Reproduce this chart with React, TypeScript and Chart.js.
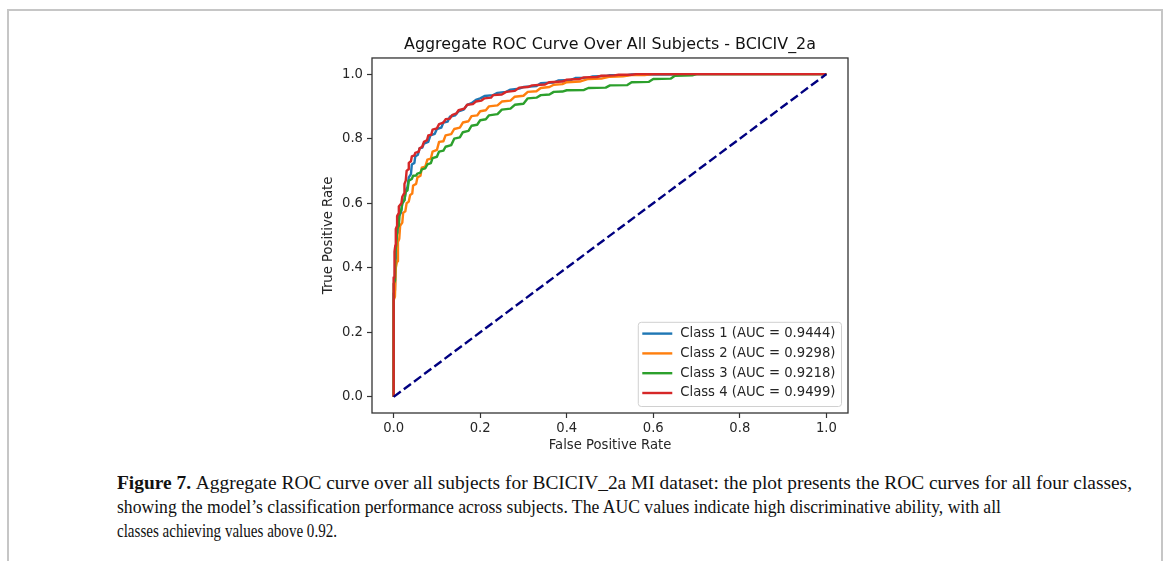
import React, { useEffect, useLayoutEffect, useRef } from "react";
import { Chart, registerables } from "chart.js";

Chart.register(...registerables);

// Axis ticks shared by both axes
const tickValues = [0, 0.2, 0.4, 0.6, 0.8, 1.0];

const chartTitle = "Aggregate ROC Curve Over All Subjects - BCICIV_2a";
const xAxisTitle = "False Positive Rate";
const yAxisTitle = "True Positive Rate";

const classLabels = [
  "Class 1 (AUC = 0.9444)",
  "Class 2 (AUC = 0.9298)",
  "Class 3 (AUC = 0.9218)",
  "Class 4 (AUC = 0.9499)",
];
const classColors = ["#1f77b4", "#ff7f0e", "#2ca02c", "#d62728"];

// ROC operating points per class as [false positive rate, true positive rate]
const class1Roc: [number, number][] = [
  [0, 0], [0, 0.32], [0.003, 0.33], [0.004, 0.42], [0.006, 0.44], [0.007, 0.5], [0.01, 0.51],
  [0.012, 0.56], [0.017, 0.57], [0.02, 0.6], [0.025, 0.61], [0.028, 0.64], [0.032, 0.65],
  [0.035, 0.68], [0.04, 0.69], [0.042, 0.72], [0.048, 0.725], [0.05, 0.745], [0.056, 0.75],
  [0.06, 0.77], [0.066, 0.772], [0.07, 0.785], [0.08, 0.79], [0.085, 0.81], [0.095, 0.815],
  [0.1, 0.83], [0.11, 0.834], [0.115, 0.85], [0.125, 0.853], [0.13, 0.868], [0.142, 0.872],
  [0.15, 0.885], [0.162, 0.89], [0.17, 0.905], [0.18, 0.91], [0.19, 0.92], [0.2, 0.925],
  [0.21, 0.932], [0.23, 0.935], [0.24, 0.942], [0.26, 0.945], [0.27, 0.952], [0.29, 0.955],
  [0.3, 0.96], [0.33, 0.963], [0.34, 0.972], [0.37, 0.974], [0.38, 0.98], [0.41, 0.982],
  [0.42, 0.988], [0.45, 0.989], [0.46, 0.993], [0.49, 0.994], [0.5, 0.997], [0.54, 0.997],
  [0.55, 0.999], [0.65, 0.999], [0.66, 1.0], [1, 1],
];

const class2Roc: [number, number][] = [
  [0, 0], [0, 0.3], [0.003, 0.31], [0.005, 0.4], [0.008, 0.42], [0.01, 0.48], [0.013, 0.49],
  [0.015, 0.53], [0.02, 0.54], [0.022, 0.57], [0.027, 0.575], [0.03, 0.6], [0.035, 0.605],
  [0.038, 0.625], [0.043, 0.63], [0.045, 0.655], [0.052, 0.66], [0.055, 0.68], [0.062, 0.685],
  [0.065, 0.71], [0.073, 0.713], [0.078, 0.735], [0.086, 0.738], [0.09, 0.76], [0.1, 0.765],
  [0.105, 0.79], [0.115, 0.792], [0.12, 0.81], [0.133, 0.814], [0.14, 0.83], [0.153, 0.834],
  [0.16, 0.85], [0.173, 0.854], [0.18, 0.87], [0.193, 0.872], [0.2, 0.885], [0.213, 0.888],
  [0.22, 0.9], [0.24, 0.903], [0.25, 0.915], [0.27, 0.918], [0.28, 0.93], [0.3, 0.933],
  [0.31, 0.945], [0.33, 0.947], [0.34, 0.957], [0.36, 0.96], [0.37, 0.967], [0.39, 0.969],
  [0.4, 0.975], [0.43, 0.977], [0.45, 0.985], [0.48, 0.986], [0.5, 0.992], [0.53, 0.993],
  [0.55, 0.997], [0.58, 0.997], [0.6, 1.0], [1, 1],
];

const class3Roc: [number, number][] = [
  [0, 0], [0, 0.35], [0.003, 0.36], [0.004, 0.45], [0.006, 0.47], [0.008, 0.52], [0.012, 0.53],
  [0.014, 0.57], [0.018, 0.58], [0.02, 0.6], [0.025, 0.61], [0.028, 0.635], [0.032, 0.64],
  [0.035, 0.67], [0.042, 0.675], [0.045, 0.685], [0.052, 0.686], [0.055, 0.692], [0.062, 0.695],
  [0.065, 0.705], [0.073, 0.708], [0.078, 0.72], [0.086, 0.724], [0.09, 0.74], [0.1, 0.744],
  [0.105, 0.76], [0.115, 0.763], [0.12, 0.775], [0.133, 0.78], [0.14, 0.8], [0.153, 0.804],
  [0.16, 0.82], [0.173, 0.824], [0.18, 0.84], [0.193, 0.843], [0.2, 0.857], [0.213, 0.86],
  [0.22, 0.872], [0.24, 0.876], [0.25, 0.89], [0.27, 0.893], [0.28, 0.905], [0.3, 0.908],
  [0.31, 0.925], [0.33, 0.927], [0.34, 0.935], [0.36, 0.937], [0.37, 0.945], [0.39, 0.946],
  [0.4, 0.95], [0.44, 0.951], [0.45, 0.957], [0.49, 0.958], [0.5, 0.965], [0.54, 0.966],
  [0.55, 0.975], [0.59, 0.976], [0.6, 0.985], [0.64, 0.986], [0.65, 0.995], [0.69, 0.996],
  [0.7, 1.0], [1, 1],
];

const class4Roc: [number, number][] = [
  [0, 0], [0, 0.37], [0.002, 0.37], [0.002, 0.45], [0.004, 0.47], [0.005, 0.52], [0.008, 0.53],
  [0.008, 0.56], [0.012, 0.57], [0.012, 0.59], [0.018, 0.6], [0.02, 0.62], [0.024, 0.63],
  [0.025, 0.66], [0.028, 0.67], [0.03, 0.7], [0.034, 0.705], [0.035, 0.725], [0.04, 0.73],
  [0.042, 0.745], [0.048, 0.748], [0.05, 0.756], [0.058, 0.76], [0.06, 0.77], [0.066, 0.775],
  [0.07, 0.79], [0.077, 0.795], [0.08, 0.81], [0.087, 0.812], [0.09, 0.828], [0.1, 0.832],
  [0.105, 0.845], [0.115, 0.85], [0.12, 0.86], [0.13, 0.862], [0.135, 0.873], [0.145, 0.878],
  [0.15, 0.888], [0.163, 0.893], [0.17, 0.905], [0.183, 0.907], [0.19, 0.915], [0.203, 0.918],
  [0.21, 0.925], [0.225, 0.927], [0.23, 0.935], [0.25, 0.937], [0.26, 0.945], [0.28, 0.948],
  [0.29, 0.958], [0.31, 0.96], [0.32, 0.965], [0.35, 0.968], [0.36, 0.975], [0.39, 0.977],
  [0.4, 0.983], [0.43, 0.985], [0.44, 0.99], [0.47, 0.991], [0.48, 0.995], [0.51, 0.996],
  [0.52, 0.998], [0.55, 0.998], [0.56, 1.0], [1, 1],
];

// Chance-level diagonal
const chanceRoc: [number, number][] = [[0, 0], [1, 1]];

const captionLead = "Figure 7.";
const captionLines = [
  "Aggregate ROC curve over all subjects for BCICIV_2a MI dataset: the plot presents the ROC curves for all four classes,",
  "showing the model\u2019s classification performance across subjects. The AUC values indicate high discriminative ability, with all",
  "classes achieving values above 0.92.",
];
// Set widths of the caption lines (px)
const captionLineWidths = [1015, 884, 220];

const toPoints = (pairs: [number, number][]) => pairs.map(([x, y]) => ({ x, y }));

const FONT = "'DejaVu Sans', sans-serif";
const INK = "#262626";
const TICK_SIZE = 13.2;

// Draws the closed axes box and an in-plot legend in the lower right corner
const boxAndLegend = {
  id: "boxAndLegend",
  afterDatasetsDraw(chart: any) {
    const { ctx, chartArea: a } = chart;
    ctx.save();
    ctx.strokeStyle = "#333";
    ctx.lineWidth = 1.3;
    ctx.strokeRect(a.left, a.top, a.right - a.left, a.bottom - a.top);

    const entries = chart.data.datasets
      .filter((d: any) => d.legendEntry)
      .sort((p: any, q: any) => p.legendEntry - q.legendEntry);

    ctx.font = `${TICK_SIZE}px ${FONT}`;
    const textW = Math.max(...entries.map((d: any) => ctx.measureText(d.label).width));
    const rowH = 19.8;
    const right = a.right - 6.5;
    const bottom = a.bottom - 6.5;
    const top = bottom - rowH * entries.length - 5;
    const textX = right - 6 - textW;
    const handleEnd = textX - 8;
    const handleStart = handleEnd - 30;
    const left = handleStart - 4;

    ctx.beginPath();
    ctx.roundRect(left, top, right - left, bottom - top, 3);
    ctx.fillStyle = "rgba(255,255,255,0.8)";
    ctx.fill();
    ctx.strokeStyle = "#d0d0d0";
    ctx.lineWidth = 1;
    ctx.stroke();

    entries.forEach((d: any, i: number) => {
      const cy = top + 11.3 + i * rowH;
      ctx.beginPath();
      ctx.moveTo(handleStart, cy);
      ctx.lineTo(handleEnd, cy);
      ctx.strokeStyle = d.borderColor;
      ctx.lineWidth = 2.4;
      ctx.stroke();
      ctx.fillStyle = INK;
      ctx.textAlign = "left";
      ctx.textBaseline = "middle";
      ctx.fillText(d.label, textX, cy);
    });
    ctx.restore();
  },
};

function RocChart() {
  const ref = useRef<HTMLCanvasElement | null>(null);

  useEffect(() => {
    if (!ref.current) return;
    const series = [class1Roc, class2Roc, class3Roc, class4Roc];
    const classSets = series.map((pairs, i) => ({
      label: classLabels[i],
      legendEntry: i + 1,
      data: toPoints(pairs),
      borderColor: classColors[i],
      borderWidth: 2.4,
      borderJoinStyle: "round" as const,
      pointRadius: 0,
      tension: 0,
      order: 4 - i,
    }));

    const axisCommon = (title: string) => ({
      type: "linear" as const,
      min: -0.05,
      max: 1.05,
      afterBuildTicks: (s: any) => {
        s.ticks = tickValues.map((v) => ({ value: v }));
      },
      ticks: {
        autoSkip: false,
        maxRotation: 0,
        padding: 3,
        color: INK,
        font: { family: FONT, size: TICK_SIZE },
        callback: (v: any) => Number(v).toFixed(1),
      },
      grid: {
        drawOnChartArea: false,
        drawTicks: true,
        tickLength: 5,
        tickColor: "#333",
        tickWidth: 1.2,
      },
      border: { display: false },
      title: {
        display: true,
        text: title,
        color: INK,
        font: { family: FONT, size: TICK_SIZE },
      },
    });

    const xAxis: any = axisCommon(xAxisTitle);
    xAxis.afterFit = (s: any) => {
      s.height = 45;
    };
    xAxis.title.padding = { top: 0, bottom: 5 };
    const yAxis: any = axisCommon(yAxisTitle);
    yAxis.afterFit = (s: any) => {
      s.width = 72;
    };
    yAxis.ticks.padding = 4;
    yAxis.title.padding = { top: 21, bottom: 0 };

    const chart = new Chart(ref.current, {
      type: "line",
      data: {
        datasets: [
          ...classSets,
          {
            label: "",
            data: toPoints(chanceRoc),
            borderColor: "#000080",
            borderWidth: 2.4,
            borderDash: [8.9, 3.8],
            pointRadius: 0,
            tension: 0,
            order: 0,
          } as any,
        ],
      },
      options: {
        responsive: false,
        animation: false,
        devicePixelRatio: 1,
        layout: { padding: { left: 300, right: 322, top: 0, bottom: 12 } },
        scales: { x: xAxis, y: yAxis },
        plugins: {
          legend: { display: false },
          tooltip: { enabled: false },
          title: {
            display: true,
            text: chartTitle,
            fullSize: false,
            color: "#111",
            font: { family: FONT, size: 15.9, weight: "normal" },
            padding: { top: 35.5, bottom: 3.4 },
          },
        },
      },
      plugins: [boxAndLegend],
    });
    return () => chart.destroy();
  }, []);

  return (
    <canvas
      ref={ref}
      width={1170}
      height={470}
      style={{ position: "absolute", left: 0, top: 0, width: 1170, height: 470 }}
    />
  );
}

// One caption line, horizontally fitted to its set width
function CaptionLine({ width, children }: { width: number; children: React.ReactNode }) {
  const ref = useRef<HTMLSpanElement | null>(null);
  useLayoutEffect(() => {
    const el = ref.current;
    if (!el) return;
    const fit = () => {
      el.style.transform = "none";
      const w = el.getBoundingClientRect().width;
      if (w > 0) el.style.transform = `scaleX(${width / w})`;
    };
    fit();
    if ((document as any).fonts?.ready) (document as any).fonts.ready.then(fit);
  }, [width]);
  return (
    <div style={{ height: 24 }}>
      <span
        ref={ref}
        style={{ display: "inline-block", whiteSpace: "nowrap", transformOrigin: "0 0" }}
      >
        {children}
      </span>
    </div>
  );
}

export default function App() {
  return (
    <div
      style={{
        position: "absolute",
        left: 0,
        top: 0,
        width: 1170,
        height: 561,
        background: "#fff",
        overflow: "hidden",
      }}
    >
      <div
        style={{
          position: "absolute",
          left: 7,
          top: 9,
          width: 1152,
          height: 600,
          borderTop: "2px solid #c6c6c6",
          borderLeft: "2px solid #c6c6c6",
          borderRight: "2px solid #c6c6c6",
        }}
      />
      <RocChart />
      <div
        style={{
          position: "absolute",
          left: 117,
          top: 471,
          fontFamily: "'Liberation Serif', serif",
          fontSize: 19,
          lineHeight: "24px",
          color: "#111",
        }}
      >
        {captionLines.map((line, i) => (
          <CaptionLine key={i} width={captionLineWidths[i]}>
            {i === 0 ? <b>{captionLead} </b> : null}
            {line}
          </CaptionLine>
        ))}
      </div>
    </div>
  );
}
